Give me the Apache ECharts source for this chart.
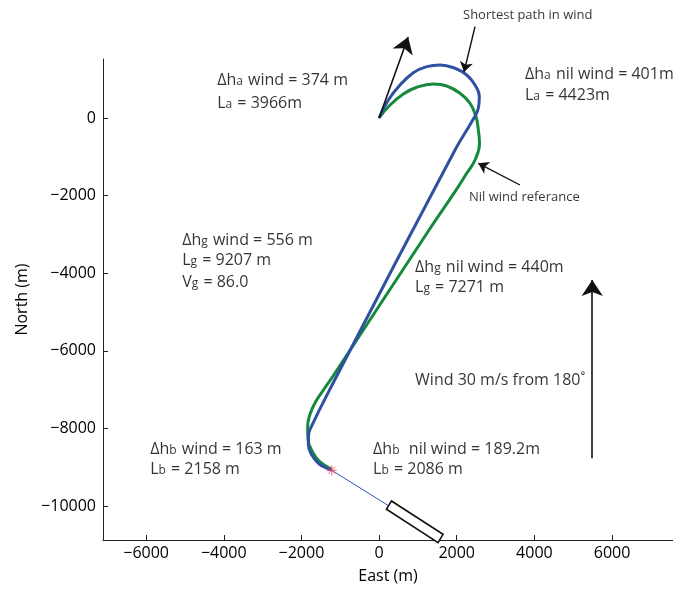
<!DOCTYPE html>
<html>
<head>
<meta charset="utf-8">
<script src="https://cdn.jsdelivr.net/npm/echarts@6/dist/echarts.min.js"></script>
<style>html,body{margin:0;padding:0;background:#fff}#c{width:673px;height:589px}</style>
</head>
<body>
<div id="c"></div>
<script>
// ---- data (metres, East / North) ----
const xTicks = [-6000, -4000, -2000, 0, 2000, 4000, 6000];
const yTicks = [-10000, -8000, -6000, -4000, -2000, 0];

// shortest path in wind (blue)
const windPath = [
  [0, 0], [239, 464], [541, 850], [883, 1167], [1228, 1322], [1570, 1366],
  [1956, 1281], [2257, 1108], [2471, 850], [2582, 549], [2556, 250],
  [2386, -95], [1956, -825], [-1143, -6752], [-1784, -8040], [-1820, -8221],
  [-1820, -8427], [-1732, -8685], [-1562, -8898], [-1346, -9027], [-1218, -9079]
];
// nil wind reference (green)
const nilPath = [
  [0, 0], [283, 335], [625, 618], [970, 791], [1398, 876], [1743, 825],
  [2085, 637], [2342, 379], [2497, 34], [2556, -309], [2587, -652],
  [2471, -1082], [2257, -1425], [1956, -1899], [1287, -2886], [-1184, -6649],
  [-1416, -6984], [-1622, -7293], [-1776, -7628], [-1840, -7963],
  [-1828, -8298], [-1725, -8582], [-1544, -8839], [-1218, -9053]
];
const startPoint = [-1218, -9079];
const approachLine = [[-1218, -9079], [257, -9999]];
const runwayCorners = [[319, -9869], [190, -10083], [1519, -10944], [1648, -10730]];

// arrows: [from, to]
const bigArrows = [
  [[0, 0], [749, 2088]],
  [[5490, -8770], [5490, -4175]]
];
const smallArrows = [
  [[2471, 2354], [2188, 1185]],
  [[3630, -1727], [2556, -1168]]
];

// annotations: anchor (left, middle) in data units + rich text
const annotations = [
  [-4170, 1031, '{m|Δh}{s|a}{m| wind = 374 m}'],
  [-4170, 438, '{m|L}{s|a}{m| = 3966m}'],
  [3758, 1185, '{m|Δh}{s|a}{m| nil wind = 401m}'],
  [3758, 644, '{m|L}{s|a}{m| = 4423m}'],
  [-5071, -3092, '{m|Δh}{s|g}{m| wind = 556 m}'],
  [-5071, -3608, '{m|L}{s|g}{m| = 9207 m}'],
  [-5071, -4175, '{m|V}{s|g}{m| = 86.0}'],
  [927, -3788, '{m|Δh}{s|g}{m| nil wind = 440m}'],
  [927, -4304, '{m|L}{s|g}{m| = 7271 m}'],
  [927, -6700, '{m|Wind 30 m/s from 180˚}'],
  [-5895, -8478, '{m|Δh}{s|b}{m| wind = 163 m}'],
  [-5895, -8994, '{m|L}{s|b}{m| = 2158 m}'],
  [-154, -8478, '{m|Δh}{s|b}{m|  nil wind = 189.2m}'],
  [-154, -8994, '{m|L}{s|b}{m| = 2086 m}'],
  [2162, 2654, '{n|Shortest path in wind}'],
  [2316, -2036, '{n|Nil wind referance}']
];

// ---- chart ----
const FONT = '"Open Sans", "Noto Sans", sans-serif';
const INK = '#000000';
const minus = v => String(v).replace('-', '\u2212');
const chart = echarts.init(document.getElementById('c'), null, {renderer: 'canvas'});
chart.setOption({
  backgroundColor: '#fff',
  animation: false,
  grid: {left: 103, right: 0, top: 59, bottom: 49},
  xAxis: {
    type: 'value', min: -7110, max: 7570,
    name: 'East (m)', nameLocation: 'middle', nameGap: 28,
    nameTextStyle: {fontFamily: FONT, fontSize: 16, color: INK},
    axisLine: {onZero: false, lineStyle: {color: '#222', width: 1}},
    axisTick: {inside: true, length: 5, customValues: xTicks, lineStyle: {color: '#222'}},
    axisLabel: {customValues: xTicks, formatter: minus, fontFamily: FONT, fontSize: 16, color: INK, margin: 5},
    splitLine: {show: false}
  },
  yAxis: {
    type: 'value', min: -10875, max: 1520,
    name: 'North (m)', nameLocation: 'middle', nameGap: 72,
    nameTextStyle: {fontFamily: FONT, fontSize: 16, color: INK},
    axisLine: {show: true, onZero: false, lineStyle: {color: '#222', width: 1}},
    axisTick: {show: true, inside: true, length: 5, customValues: yTicks, lineStyle: {color: '#222'}},
    axisLabel: {customValues: yTicks, formatter: minus, fontFamily: FONT, fontSize: 16, color: INK, margin: 7},
    splitLine: {show: false}
  },
  series: [
    {
      type: 'line', data: nilPath, smooth: 0.45, showSymbol: false, clip: false,
      lineStyle: {color: '#138a3c', width: 3}, z: 3
    },
    {
      type: 'line', data: windPath, smooth: 0.45, showSymbol: false, clip: false,
      lineStyle: {color: '#3050a2', width: 3}, z: 4
    },
    {
      type: 'line', data: approachLine, showSymbol: false, clip: false,
      lineStyle: {color: '#2f55c4', width: 1}, z: 4
    },
    {
      type: 'custom', clip: false, z: 6,
      data: [0],
      renderItem: (params, api) => ({
        type: 'polygon',
        shape: {points: runwayCorners.map(c => api.coord(c))},
        style: {fill: '#fff', stroke: '#111', lineWidth: 1.6}
      })
    },
    {
      type: 'scatter', data: [startPoint], clip: false, z: 7,
      symbol: 'path://M0,-5L0,5M-5,0L5,0M-3.6,-3.6L3.6,3.6M-3.6,3.6L3.6,-3.6',
      symbolSize: 10,
      itemStyle: {color: 'rgba(0,0,0,0)', borderColor: '#f2405a', borderWidth: 1}
    },
    {
      type: 'lines', coordinateSystem: 'cartesian2d', clip: false, z: 5,
      symbol: ['none', 'arrow'], symbolSize: 16,
      lineStyle: {color: '#111', width: 1.6, opacity: 1},
      data: bigArrows.map(a => ({coords: a}))
    },
    {
      type: 'lines', coordinateSystem: 'cartesian2d', clip: false, z: 5,
      symbol: ['none', 'arrow'], symbolSize: 10,
      lineStyle: {color: '#111', width: 1.4, opacity: 1},
      data: smallArrows.map(a => ({coords: a}))
    },
    {
      type: 'scatter', clip: false, symbolSize: 0, z: 8,
      data: annotations.map(a => ({value: [a[0], a[1]], txt: a[2]})),
      label: {
        show: true, position: [0, 0], align: 'left', verticalAlign: 'middle',
        formatter: p => p.data.txt,
        rich: {
          m: {fontFamily: FONT, fontSize: 16, color: INK, verticalAlign: 'bottom', lineHeight: 20},
          s: {fontFamily: FONT, fontSize: 12, color: INK, verticalAlign: 'bottom', lineHeight: 19, padding: [0, 1, 0, 0]},
          n: {fontFamily: FONT, fontSize: 13, color: INK}
        }
      },
      emphasis: {disabled: true}
    }
  ]
});
</script>
</body>
</html>
